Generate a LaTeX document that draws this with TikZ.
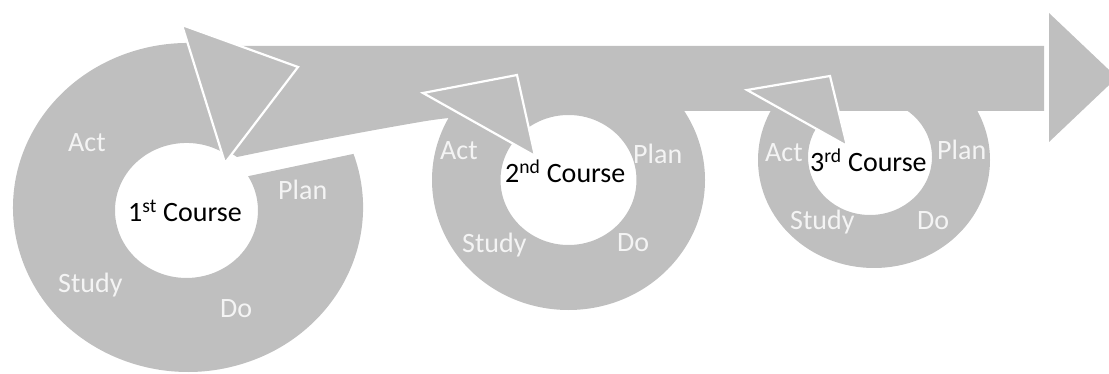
\documentclass[tikz,border=0pt]{standalone}
\usepackage{fontspec}
\setmainfont{Carlito}
\definecolor{ringgray}{RGB}{191,191,191}
\definecolor{labelwhite}{RGB}{244,244,244}
\tikzset{
  ringfill/.style={fill=ringgray},
  headtri/.style={fill=ringgray, draw=white, line width=2.2pt, line join=miter},
  phase/.style={anchor=base west, inner sep=0pt, text=labelwhite, font=\fontsize{28}{30}\selectfont},
  course/.style={anchor=base west, inner sep=0pt, text=black, font=\fontsize{28}{30}\selectfont}
}
\begin{document}
\begin{tikzpicture}[x=1pt,y=-1pt]
\useasboundingbox (0,0) rectangle (1109,374);
\clip (0,0) rectangle (1109,374);
% ring 1 (open circular arrow body)
\fill[ringfill] (353.5,153.9)
  arc[start angle=-19, end angle=300, x radius=175, y radius=164.5]
  -- (222.25,152.0)
  arc[start angle=300, end angle=-30.5, x radius=71.5, y radius=67.5]
  -- cycle;
% ring 2 and ring 3 (annuli, tops hidden behind the shaft)
\fill[ringfill, even odd rule] (568.5,180) ellipse[x radius=136.5, y radius=130]
  (568.5,180) ellipse[x radius=68, y radius=65];
\fill[ringfill, even odd rule] (874,160) ellipse[x radius=116, y radius=108]
  (870,157) ellipse[x radius=62, y radius=58];
% main shaft
\fill[ringfill] (215,46) -- (1044,46) -- (1044,111) -- (690,111)
  .. controls (560,111) and (470,113) .. (420,122)
  .. controls (350,134) and (290,146) .. (237,157)
  -- (226,150) -- cycle;
% main arrow head
\fill[ringfill] (1049,13) -- (1117,77.5) -- (1049,142) -- cycle;
% triangle heads of the three cycles
\draw[headtri] (182,25) -- (298,67) -- (225,163) -- cycle;
\draw[headtri] (423,93) -- (517,75) -- (535,156) -- cycle;
\draw[headtri] (747,90) -- (830,76) -- (847,146) -- cycle;
% labels ring 1
\node[phase] (act1) at (68,152) {Act};
\node[phase] (plan1) at (278,200) {Plan};
\node[course] (course1) at (128,222) {1\textsuperscript{st} Course};
\node[phase] (study1) at (58,293) {Study};
\node[phase] (do1) at (220,317) {Do};
% labels ring 2
\node[phase] (act2) at (440,160) {Act};
\node[phase] (plan2) at (633,164) {Plan};
\node[course] (course2) at (505,183) {2\textsuperscript{nd} Course};
\node[phase] (study2) at (462,253) {Study};
\node[phase] (do2) at (617,252) {Do};
% labels ring 3
\node[phase] (act3) at (765,162) {Act};
\node[phase] (plan3) at (937,160) {Plan};
\node[course] (course3) at (810,172) {3\textsuperscript{rd} Course};
\node[phase] (study3) at (790,230) {Study};
\node[phase] (do3) at (917,230) {Do};
\end{tikzpicture}
\end{document}
